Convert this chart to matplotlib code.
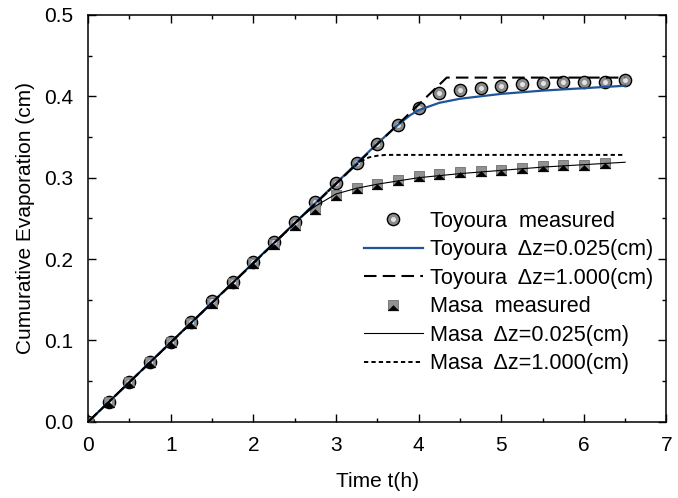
import numpy as np
import matplotlib
matplotlib.use('Agg')
import matplotlib.pyplot as plt
from matplotlib.ticker import MultipleLocator, FormatStrFormatter

plt.rcParams['font.family'] = ['Liberation Sans', 'DejaVu Sans']
plt.rcParams['font.size'] = 15

# measured data (time step 0.25 h)
t_toyoura = np.arange(27) * 0.25
e_toyoura = [0, 0.024, 0.049, 0.073, 0.098, 0.123, 0.148, 0.172, 0.197, 0.221,
             0.246, 0.270, 0.294, 0.318, 0.342, 0.365, 0.386, 0.404, 0.408, 0.410,
             0.413, 0.415, 0.416, 0.418, 0.418, 0.418, 0.420]

t_masa = np.arange(26) * 0.25
e_masa = [0, 0.024, 0.049, 0.073, 0.098, 0.122, 0.146, 0.170, 0.195, 0.219,
          0.242, 0.262, 0.279, 0.287, 0.292, 0.297, 0.302, 0.305, 0.307, 0.308,
          0.310, 0.312, 0.314, 0.315, 0.316, 0.318]

# computed curves
t_toy_fine = [0, 3.5, 3.75, 3.9, 4.0, 4.25, 4.5, 5.0, 5.5, 6.0, 6.5]
e_toy_fine = [0, 0.342, 0.365, 0.377, 0.383, 0.392, 0.397, 0.403, 0.407, 0.410, 0.413]

t_toy_coarse = [0, 4.34, 6.5]
e_toy_coarse = [0, 0.423, 0.423]

t_masa_fine = [0, 2.6, 2.75, 3.0, 3.25, 3.5, 3.75, 4.0, 4.5, 5.0, 5.5, 6.0, 6.5]
e_masa_fine = [0, 0.254, 0.265, 0.280, 0.287, 0.292, 0.296, 0.300, 0.305, 0.309,
               0.313, 0.316, 0.319]

t_masa_coarse = [0, 3.2, 3.3, 3.4, 3.5, 3.6, 6.5]
e_masa_coarse = [0, 0.312, 0.320, 0.325, 0.327, 0.328, 0.328]

fig = plt.figure(figsize=(6.78, 4.98), dpi=100)
ax = fig.add_axes([0.130, 0.153, 0.853, 0.817])

# little triangle for the shaded squares
tri = [(-1, -1), (1, -1), (0, 0), (-1, -1)]

circ = dict(marker='o', ls='none', ms=8.8, mfc='#8a8a8a', mec='black', mew=1.0)
circ_hl = dict(marker='o', ls='none', ms=3.6, mfc='#e2e2e2', mec='none')
sq = dict(marker='s', ls='none', ms=7.8, mfc='#919191', mec='#6e6e6e', mew=0.6)
sq_tri = dict(marker=tri, ls='none', ms=7.8, mfc='black', mec='black', mew=0.3)

# markers
ax.plot(t_toyoura, e_toyoura, zorder=2, **circ)
ax.plot(t_toyoura, e_toyoura, zorder=2.1, **circ_hl)
ax.plot(t_masa, e_masa, zorder=2, **sq)
ax.plot(t_masa, e_masa, zorder=2.1, **sq_tri)

# lines
blue = dict(color='#1f5596', lw=1.6)
dash = dict(color='black', lw=1.5, ls='--', dashes=(6, 3))
thin = dict(color='black', lw=0.8)
dots = dict(color='black', lw=1.4, ls=':', dashes=(2.2, 1.6))
ax.plot(t_toy_fine, e_toy_fine, zorder=3, **blue)
ax.plot(t_toy_coarse, e_toy_coarse, zorder=3, **dash)
ax.plot(t_masa_fine, e_masa_fine, zorder=3, **thin)
ax.plot(t_masa_coarse, e_masa_coarse, zorder=3, **dots)

# legend handles
h1 = (ax.plot([], [], **circ)[0], ax.plot([], [], **circ_hl)[0])
h2, = ax.plot([], [], **blue)
h3, = ax.plot([], [], **dash)
h4 = (ax.plot([], [], **sq)[0], ax.plot([], [], **sq_tri)[0])
h5, = ax.plot([], [], **thin)
h6, = ax.plot([], [], **dots)
labels = ['Toyoura  measured', 'Toyoura  \u0394z=0.025(cm)', 'Toyoura  \u0394z=1.000(cm)',
          'Masa  measured', 'Masa  \u0394z=0.025(cm)', 'Masa  \u0394z=1.000(cm)']
fig.legend([h1, h2, h3, h4, h5, h6], labels, loc='upper left', frameon=False,
           fontsize=15.6, handlelength=2.7, handletextpad=0.33, labelspacing=0.345,
           bbox_to_anchor=(364 / 678, 1 - 211 / 498), borderaxespad=0, borderpad=0)

ax.set_xlim(0, 7)
ax.set_ylim(0, 0.5)
ax.xaxis.set_major_locator(MultipleLocator(1))
ax.xaxis.set_minor_locator(MultipleLocator(0.5))
ax.yaxis.set_major_locator(MultipleLocator(0.1))
ax.yaxis.set_minor_locator(MultipleLocator(0.05))
ax.yaxis.set_major_formatter(FormatStrFormatter('%.1f'))
ax.tick_params(which='both', direction='in', top=True, right=True, width=1.0)
ax.tick_params(which='major', length=6, pad=10.5)
ax.tick_params(which='minor', length=3)
for s in ax.spines.values():
    s.set_linewidth(1.1)

ax.set_xlabel('Time t(h)', labelpad=12)
ax.set_ylabel('Cumurative Evaporation (cm)', labelpad=7)

fig.savefig('out.png', dpi=100)
